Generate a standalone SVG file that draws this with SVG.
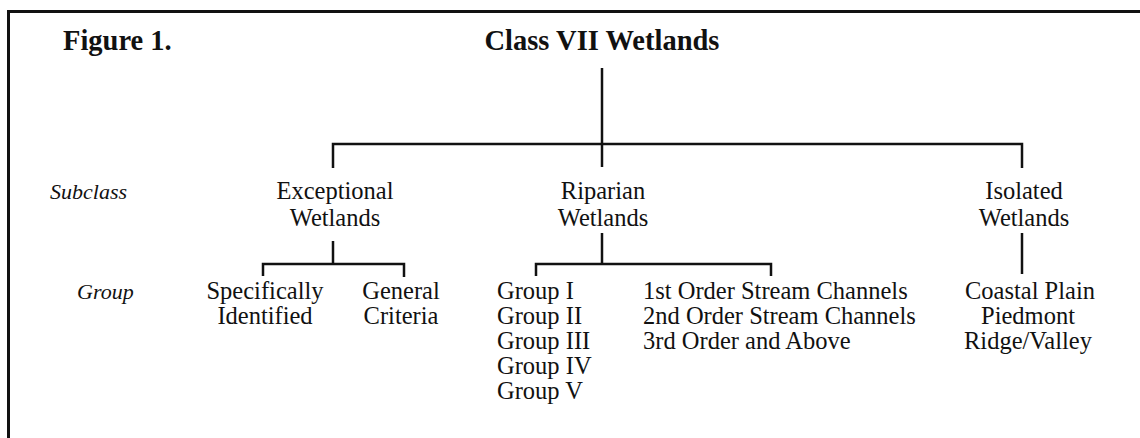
<svg xmlns="http://www.w3.org/2000/svg" width="1140" height="438" viewBox="0 0 1140 438">
<style>
.t{font-family:"Liberation Serif","Times New Roman",serif;font-size:24.5px;fill:#111}
.c{text-anchor:middle}
.b{font-weight:bold;font-size:28.5px}
.i{font-style:italic;font-size:22px}
.ln{fill:none;stroke:#111;stroke-width:2.5}
</style>
<rect width="1140" height="438" fill="#fff"/>
<path class="ln" d="M8.5 440 V11.5 H1142" style="stroke-width:3"/>
<g id="connectors">
<path class="ln" d="M602 68 V144"/>
<path class="ln" d="M333 168 V144 H1022 V168"/>
<path class="ln" d="M602 144 V167"/>
<path class="ln" d="M333 241 V264"/>
<path class="ln" d="M263 276 V264 H404 V277"/>
<path class="ln" d="M602 233 V264"/>
<path class="ln" d="M536 276 V264 H771 V276"/>
<path class="ln" d="M1022 233 V274"/>
</g>
<g id="figure-label"><text class="t b" x="63" y="50">Figure 1.</text></g>
<g id="class-vii"><text class="t b c" x="602" y="50">Class VII Wetlands</text></g>
<g id="label-subclass"><text class="t i" x="50" y="199">Subclass</text></g>
<g id="label-group"><text class="t i" x="77" y="299">Group</text></g>
<g id="exceptional"><text class="t c" x="335" y="199">Exceptional</text><text class="t c" x="335" y="226">Wetlands</text></g>
<g id="riparian"><text class="t c" x="603" y="199">Riparian</text><text class="t c" x="603" y="226">Wetlands</text></g>
<g id="isolated"><text class="t c" x="1024" y="199">Isolated</text><text class="t c" x="1024" y="226">Wetlands</text></g>
<g id="specifically"><text class="t c" x="265" y="299">Specifically</text><text class="t c" x="265" y="324">Identified</text></g>
<g id="general"><text class="t c" x="401" y="299">General</text><text class="t c" x="401" y="324">Criteria</text></g>
<g id="groups"><text class="t" x="497" y="299">Group I</text><text class="t" x="497" y="324">Group II</text><text class="t" x="497" y="349">Group III</text><text class="t" x="497" y="374">Group IV</text><text class="t" x="497" y="399">Group V</text></g>
<g id="stream-orders"><text class="t" x="643" y="299">1st Order Stream Channels</text><text class="t" x="643" y="324">2nd Order Stream Channels</text><text class="t" x="643" y="349">3rd Order and Above</text></g>
<g id="regions"><text class="t c" x="1030" y="299">Coastal Plain</text><text class="t c" x="1028" y="324">Piedmont</text><text class="t c" x="1028" y="349">Ridge/Valley</text></g>
</svg>
